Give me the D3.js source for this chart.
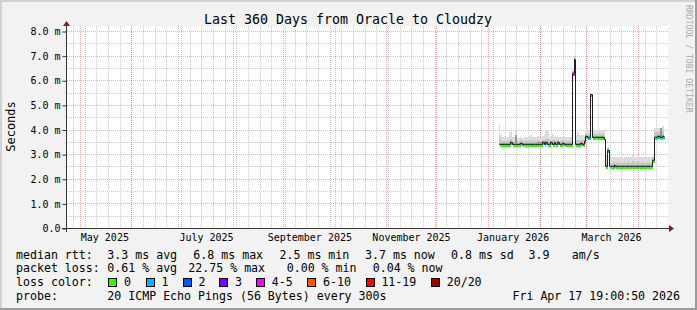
<!DOCTYPE html>
<html lang="en">
<head>
<meta charset="UTF-8">
<title>Last 360 Days from Oracle to Cloudzy</title>
<script src="https://d3js.org/d3.v7.min.js"></script>
<style>
  body { margin: 0; background: #fff; }
  svg text { font-family: "DejaVu Sans Mono", monospace; fill: #000; }
</style>
</head>
<body>
<svg id="chart" width="697" height="310"></svg>
<script>
// ---- data (one value per day, Jan 7 .. Apr 15 2026) ----
const firstDay = new Date(Date.UTC(2026, 0, 7));
const endTime = new Date(Date.UTC(2026, 3, 17, 19, 0, 50));

const median = [
  3.40,3.40,3.40,3.40,3.40,3.40,3.40,3.48,3.40,3.40,
  3.40,3.40,3.40,3.45,3.40,3.40,3.40,3.40,3.40,3.40,
  3.40,3.40,3.40,3.40,3.40,3.40,3.48,3.40,3.48,3.40,
  3.40,3.48,3.40,3.48,3.40,3.48,3.40,3.40,3.45,3.40,
  3.40,3.40,3.40,3.40,6.30,6.85,3.40,3.40,3.40,3.45,
  3.40,3.52,3.72,3.70,3.70,5.45,3.68,3.68,3.68,3.68,
  3.68,3.68,3.68,3.62,2.52,3.18,2.52,2.52,2.52,2.55,
  2.52,2.52,2.52,2.52,2.52,2.52,2.52,2.52,2.52,2.52,
  2.52,2.52,2.52,2.52,2.52,2.52,2.52,2.52,2.52,2.52,
  2.52,2.52,2.78,3.70,3.70,3.72,3.72,3.70,3.72
];
// index into lossColors
const loss = [
  0,0,0,0,0,0,0,1,0,0,
  0,0,0,1,0,0,0,0,0,0,
  0,0,0,0,0,0,1,0,1,0,
  0,1,0,1,0,1,0,0,1,0,
  0,0,0,0,4,4,0,0,0,1,
  0,0,0,1,1,1,0,0,0,0,
  0,0,0,1,0,1,0,0,1,0,
  0,0,0,0,0,0,0,0,0,0,
  0,0,0,0,0,0,0,0,0,0,
  0,0,0,0,0,1,1,0,1
];
const smokeHi = [
  4.25,3.80,3.70,3.72,3.70,3.70,3.88,3.90,3.72,3.72,
  3.97,3.68,3.68,3.70,3.68,3.70,3.72,3.70,3.70,3.80,
  3.72,3.72,3.70,3.75,3.72,3.72,3.74,3.80,3.95,3.95,
  3.72,3.72,3.85,3.70,3.70,3.72,3.70,3.70,3.72,3.70,
  3.70,3.70,3.72,3.70,6.45,6.95,3.80,3.90,3.80,3.80,
  3.80,3.75,4.00,4.00,4.00,5.50,4.00,4.00,4.00,4.00,
  4.05,4.00,4.00,4.00,3.00,3.30,2.90,2.90,2.92,2.90,
  2.90,2.92,2.90,2.90,2.88,2.90,2.90,2.92,2.90,2.90,
  3.00,2.92,2.90,3.00,2.90,2.90,2.92,2.90,2.90,2.90,
  2.90,2.90,2.95,4.08,4.08,4.08,4.08,4.10,4.17
];
const smokeMid = [
  3.70,3.60,3.55,3.55,3.55,3.55,3.60,3.62,3.55,3.55,
  3.65,3.55,3.55,3.58,3.55,3.55,3.55,3.55,3.55,3.60,
  3.55,3.55,3.55,3.58,3.56,3.56,3.60,3.58,3.62,3.62,
  3.55,3.60,3.60,3.58,3.55,3.58,3.55,3.55,3.58,3.55,
  3.55,3.55,3.55,3.55,6.38,6.92,3.58,3.60,3.58,3.58,
  3.58,3.62,3.85,3.85,3.85,5.48,3.85,3.85,3.85,3.85,
  3.88,3.85,3.85,3.80,2.70,3.25,2.68,2.68,2.70,2.70,
  2.68,2.72,2.68,2.68,2.68,2.70,2.68,2.72,2.68,2.68,
  2.75,2.70,2.68,2.75,2.68,2.68,2.70,2.68,2.68,2.68,
  2.68,2.68,2.85,3.90,3.90,3.90,3.90,4.08,3.95
];
const smokeDark = [
  3.48,3.47,3.47,3.47,3.47,3.47,3.48,3.55,3.47,3.47,
  3.80,3.47,3.47,3.52,3.47,3.47,3.47,3.47,3.47,3.48,
  3.47,3.47,3.47,3.52,3.50,3.50,3.55,3.47,3.55,3.48,
  3.47,3.55,3.48,3.55,3.47,3.55,3.47,3.47,3.52,3.47,
  3.47,3.47,3.47,3.47,6.34,6.95,3.47,3.48,3.47,3.52,
  3.47,3.58,3.78,3.77,3.77,5.48,3.75,3.75,3.75,3.75,
  3.76,3.75,3.75,3.70,2.58,3.22,2.58,2.58,2.58,2.62,
  2.58,2.58,2.58,2.58,2.58,2.58,2.58,2.58,2.58,2.58,
  2.58,2.58,2.58,2.58,2.58,2.58,2.58,2.58,2.58,2.58,
  2.58,2.58,2.82,3.77,3.77,3.78,3.78,4.08,3.78
];

const yMajorTicks = [0, 1, 2, 3, 4, 5, 6, 7, 8];
const yTickLabels = ["0.0", "1.0 m", "2.0 m", "3.0 m", "4.0 m", "5.0 m", "6.0 m", "7.0 m", "8.0 m"];
const yMinorTicks = [0.5, 1.5, 2.5, 3.5, 4.5, 5.5, 6.5, 7.5];
const yTop = 8.2;

const monthLabelDates = [
  new Date(Date.UTC(2025, 4, 15, 12)), new Date(Date.UTC(2025, 6, 15, 12)),
  new Date(Date.UTC(2025, 8, 15, 12)), new Date(Date.UTC(2025, 10, 15, 12)),
  new Date(Date.UTC(2026, 0, 15, 12)), new Date(Date.UTC(2026, 2, 15, 12))
];
const monthLabels = ["May 2025", "July 2025", "September 2025", "November 2025", "January 2026", "March 2026"];

const lossLabels = ["0", "1", "2", "3", "4-5", "6-10", "11-19", "20/20"];
const lossColors = ["#26ff00", "#00b8ff", "#0059ff", "#7e00ff", "#ff00ff", "#ff5500", "#ff0000", "#a10000"];

const rttStats = ["3.3 ms avg", "6.8 ms max", "2.5 ms min", "3.7 ms now", "0.8 ms sd", "3.9", "am/s"];
const lossStats = ["0.61 % avg", "22.75 % max", "0.00 % min", "0.04 % now"];
const probeText = "20 ICMP Echo Pings (56 Bytes) every 300s";
const stampText = "Fri Apr 17 19:00:50 2026";

// ---- setup ----
const W = 697, H = 310;
const svg = d3.select("#chart");
const startTime = new Date(endTime.getTime() - 360 * 864e5);
const days = median.map((_, i) => d3.utcDay.offset(firstDay, i));

const x = d3.scaleUtc().domain([startTime, endTime]).range([66.5, 666.5]);
const y = d3.scaleLinear().domain([0, 8]).range([228.5, 31.5]);
const px = v => Math.floor(v) + 0.5;

// background + frame
svg.append("rect").attr("width", W).attr("height", H).attr("fill", "#f2f2f2");
svg.append("rect").attr("x", 0).attr("y", 0).attr("width", W).attr("height", 2).attr("fill", "#d2d2d2");
svg.append("rect").attr("x", 0).attr("y", 0).attr("width", 2).attr("height", H).attr("fill", "#d2d2d2");
svg.append("rect").attr("x", 0).attr("y", H - 2).attr("width", W).attr("height", 2).attr("fill", "#9c9c9c");
svg.append("rect").attr("x", W - 2).attr("y", 0).attr("width", 2).attr("height", H).attr("fill", "#9c9c9c");

// canvas
const plotTop = Math.floor(y(yTop));
svg.append("rect")
  .attr("x", 67).attr("y", plotTop)
  .attr("width", 601).attr("height", 228 - plotTop)
  .attr("fill", "#fff");

// grid
const grid = svg.append("g").attr("stroke-width", 1).attr("stroke-dasharray", "1,1");
const minorCol = "rgba(128,128,128,0.42)", majorCol = "rgba(240,40,40,0.38)";

grid.append("g").selectAll("line").data(yMinorTicks).join("line")
  .attr("x1", 67).attr("x2", 668)
  .attr("y1", d => px(y(d))).attr("y2", d => px(y(d)))
  .attr("stroke", minorCol);
grid.append("g").selectAll("line").data(d3.utcSunday.range(startTime, endTime)).join("line")
  .attr("x1", d => px(x(d))).attr("x2", d => px(x(d)))
  .attr("y1", plotTop).attr("y2", 228)
  .attr("stroke", minorCol);
grid.append("g").selectAll("line").data(yMajorTicks.slice(1)).join("line")
  .attr("x1", 67).attr("x2", 668)
  .attr("y1", d => px(y(d))).attr("y2", d => px(y(d)))
  .attr("stroke", majorCol);
grid.append("g").selectAll("line").data(d3.utcMonth.range(d3.utcDay.offset(startTime, 1), endTime)).join("line")
  .attr("x1", d => px(x(d))).attr("x2", d => px(x(d)))
  .attr("y1", plotTop).attr("y2", 228)
  .attr("stroke", majorCol);

// smoke
const smoke = svg.append("g").attr("shape-rendering", "crispEdges");
const dx0 = i => Math.round(x(days[i]));
const dx1 = i => Math.round(x(d3.utcDay.offset(days[i], 1)));
[[smokeHi, "#dcdcdc"], [smokeMid, "#c6c6c6"], [smokeDark, "#959595"]].forEach(([arr, col]) => {
  smoke.append("g").selectAll("rect").data(arr).join("rect")
    .attr("x", (d, i) => dx0(i))
    .attr("width", (d, i) => dx1(i) - dx0(i))
    .attr("y", d => Math.round(y(d)))
    .attr("height", (d, i) => Math.max(0, Math.round(y(median[i])) - Math.round(y(d))))
    .attr("fill", col);
});

// loss-coloured median band
svg.append("g").attr("shape-rendering", "crispEdges")
  .selectAll("rect").data(median).join("rect")
  .attr("x", (d, i) => dx0(i) + 1)
  .attr("width", (d, i) => dx1(i) - dx0(i))
  .attr("y", d => Math.floor(y(d)) + 1)
  .attr("height", 2)
  .attr("fill", (d, i) => lossColors[loss[i]]);

// median line (black, step)
const pts = median.map((m, i) => [dx0(i), m]);
pts.push([dx1(median.length - 1), median[median.length - 1]]);
svg.append("path")
  .attr("d", d3.line().x(d => d[0] + 0.5).y(d => px(y(d[1]))).curve(d3.curveStepAfter)(pts))
  .attr("fill", "none").attr("stroke", "#202020").attr("stroke-width", 1);

// axes
const yAxis = svg.append("g").attr("transform", "translate(66.5,0)")
  .call(d3.axisLeft(y).tickValues(yMajorTicks).tickSize(4).tickPadding(2)
    .tickFormat((d, i) => yTickLabels[i]));
yAxis.select(".domain").remove();
yAxis.selectAll(".tick line").attr("stroke", "#333");
yAxis.selectAll("text").attr("font-size", 10).attr("font-family", "DejaVu Sans Mono").attr("fill", "#000");

const xAxis = svg.append("g").attr("transform", "translate(0,228.5)")
  .call(d3.axisBottom(x).tickValues(monthLabelDates).tickSize(0).tickPadding(5.4)
    .tickFormat((d, i) => monthLabels[i]));
xAxis.select(".domain").remove();
xAxis.selectAll("text").attr("font-size", 10).attr("font-family", "DejaVu Sans Mono").attr("fill", "#000");

svg.append("line").attr("x1", 62).attr("x2", 670).attr("y1", 228.5).attr("y2", 228.5)
  .attr("stroke", "#333");
svg.append("line").attr("x1", 66.5).attr("x2", 66.5).attr("y1", 232).attr("y2", 24)
  .attr("stroke", "#333");
svg.append("path").attr("d", "M669,225L669,232L674,228.5Z").attr("fill", "#8f1818");
svg.append("path").attr("d", "M63,26L70,26L66.5,21Z").attr("fill", "#8f1818");

// title + labels
svg.append("text").attr("x", 348).attr("y", 24).attr("text-anchor", "middle")
  .attr("font-size", 13.3).text("Last 360 Days from Oracle to Cloudzy");
svg.append("text").attr("transform", "translate(15,126.5) rotate(-90)")
  .attr("text-anchor", "middle").attr("font-size", 12).text("Seconds");
svg.append("text").attr("transform", "translate(685.5,5) rotate(90)")
  .attr("font-size", 8.15).style("fill", "#ababab").text("RRDTOOL / TOBI OETIKER");

// legend
const lg = svg.append("g").attr("font-size", 11.6);
const rows = [259, 272.3, 286.3, 299.7];
lg.append("text").attr("x", 16).attr("y", rows[0]).text("median rtt:");
lg.append("text").attr("x", 16).attr("y", rows[1]).text("packet loss:");
lg.append("text").attr("x", 16).attr("y", rows[2]).text("loss color:");
lg.append("text").attr("x", 16).attr("y", rows[3]).text("probe:");

const rttX = [107.3, 193.3, 279.5, 365, 451, 528.5, 571.7];
lg.append("g").selectAll("text").data(rttStats).join("text")
  .attr("x", (d, i) => rttX[i]).attr("y", rows[0]).text(d => d);
const lossX = [107.3, 188.3, 286.7, 372.7];
lg.append("g").selectAll("text").data(lossStats).join("text")
  .attr("x", (d, i) => lossX[i]).attr("y", rows[1]).text(d => d);

const boxX = [108.3, 145.7, 182.7, 219.3, 256, 307.3, 365.7, 431];
const keys = lg.append("g").selectAll("g").data(lossLabels).join("g");
keys.append("rect")
  .attr("x", (d, i) => Math.round(boxX[i]) + 0.5).attr("y", 278.5)
  .attr("width", 8).attr("height", 8)
  .attr("fill", (d, i) => lossColors[i]).attr("stroke", "#000");
keys.append("text")
  .attr("x", (d, i) => boxX[i] + 15.7).attr("y", rows[2]).text(d => d);

lg.append("text").attr("x", 107.3).attr("y", rows[3]).text(probeText);
lg.append("text").attr("x", 680).attr("y", rows[3]).attr("text-anchor", "end").text(stampText);
</script>
</body>
</html>
